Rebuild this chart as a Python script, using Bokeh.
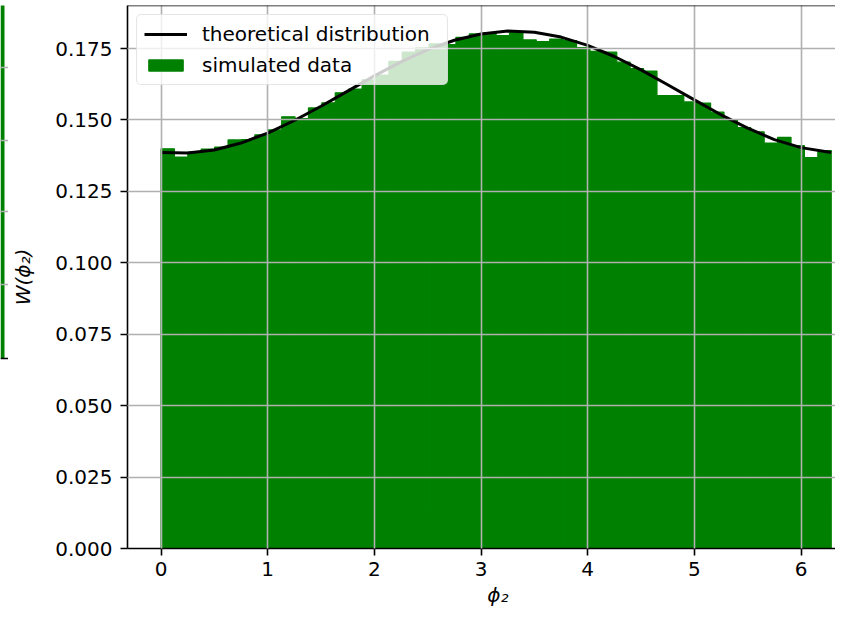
import numpy as np
from bokeh.plotting import figure
from bokeh.layouts import row
from bokeh.models import (Range1d, FixedTicker, PrintfTickFormatter, Legend, LegendItem, Span)
from bokeh.embed import file_html
from bokeh.resources import INLINE

# ---- data ----
n_bins = 50
hist_heights = [
    0.1399, 0.1370, 0.1387, 0.1398, 0.1405, 0.1430, 0.1431, 0.1448, 0.1465, 0.1511,
    0.1505, 0.1542, 0.1560, 0.1595, 0.1608, 0.1640, 0.1657, 0.1705, 0.1737, 0.1752,
    0.1766, 0.1764, 0.1789, 0.1801, 0.1804, 0.1795, 0.1806, 0.1780, 0.1774, 0.1783,
    0.1778, 0.1753, 0.1740, 0.1737, 0.1702, 0.1680, 0.1671, 0.1585, 0.1585, 0.1563,
    0.1559, 0.1527, 0.1500, 0.1473, 0.1458, 0.1419, 0.1439, 0.1410, 0.1368, 0.1393,
]
theory_x = [0.0, 0.25, 0.5, 0.75, 1.0, 1.25, 1.5, 1.75, 2.0, 2.25, 2.5, 2.75, 3.0,
            3.25, 3.5, 3.75, 4.0, 4.25, 4.5, 4.75, 5.0, 5.25, 5.5, 5.75, 6.0, 6.2832]
theory_y = [0.1386, 0.1384, 0.1395, 0.1419, 0.1454, 0.1498, 0.1548, 0.1601, 0.1654,
            0.1703, 0.1746, 0.1779, 0.1801, 0.1811, 0.1807, 0.1790, 0.1761, 0.1722,
            0.1675, 0.1623, 0.1570, 0.1518, 0.1471, 0.1431, 0.1403, 0.1386]
x_ticks = [0, 1, 2, 3, 4, 5, 6]
y_ticks = [0.0, 0.025, 0.05, 0.075, 0.1, 0.125, 0.15, 0.175]

# sliver of a neighbouring panel visible at the left edge of the reference
side_bar_bottom = [0.35]
side_bar_top = [1.02]
side_grid_ticks = [0.486, 0.620, 0.751, 0.885]

edges = np.linspace(0, 2 * np.pi, n_bins + 1)

FONT = "DejaVu Sans"
FS = "20px"
y_top = 0.19005
x_lo, x_hi = -0.31416, 6.3232
SIDE_W = 8

# ---- side sliver ----
s = figure(width=SIDE_W, height=611, output_backend="svg", toolbar_location=None,
           x_range=Range1d(0, 2.0), y_range=Range1d(0, 1.0),
           min_border_left=0, min_border_right=0, min_border_top=5,
           min_border_bottom=63)
s.outline_line_color = None
s.xaxis.visible = False
s.yaxis.visible = False
s.xgrid.visible = False
s.quad(left=[0], right=[1.0], bottom=side_bar_bottom, top=side_bar_top,
       fill_color="#008000", line_color=None)
s.ygrid.ticker = FixedTicker(ticks=side_grid_ticks)
s.ygrid.grid_line_color = "#b0b0b0"
s.ygrid.grid_line_width = 1.6
s.ygrid.level = "guide"
s.add_layout(Span(location=side_bar_bottom[0], dimension="width", line_color="black",
                  line_width=1.6))

# ---- main chart ----
p = figure(width=835 - SIDE_W, height=611, output_backend="svg", toolbar_location=None,
           x_range=Range1d(x_lo, x_hi), y_range=Range1d(0.0, y_top),
           min_border_left=127 - SIDE_W, min_border_right=0, min_border_top=5,
           min_border_bottom=63)
p.outline_line_color = None

bars = p.quad(left=edges[:-1], right=edges[1:], bottom=0, top=hist_heights,
              fill_color="#008000", line_color="#008000", line_width=1.2)
line = p.line(theory_x, theory_y, line_color="black", line_width=3)

# top spine
p.add_layout(Span(location=y_top, dimension="width", line_color="black", line_width=1.6))

for ax in (p.xaxis[0], p.yaxis[0]):
    ax.axis_line_color = "black"
    ax.axis_line_width = 1.6
    ax.major_tick_line_width = 1.6
    ax.major_tick_line_color = "black"
    ax.major_tick_out = 7
    ax.major_tick_in = 0
    ax.minor_tick_line_color = None
    ax.major_label_text_font = FONT
    ax.major_label_text_font_size = FS
    ax.major_label_text_color = "black"
    ax.axis_label_text_font = FONT
    ax.axis_label_text_font_size = FS
    ax.axis_label_text_font_style = "italic"
    ax.axis_label_text_color = "black"

p.xaxis.ticker = FixedTicker(ticks=x_ticks)
p.yaxis.ticker = FixedTicker(ticks=y_ticks)
p.yaxis.formatter = PrintfTickFormatter(format="%.3f")
p.xaxis.major_label_standoff = 6
p.yaxis.major_label_standoff = 8
p.xaxis.axis_label = "\u2003\u2007ϕ₂"
p.xaxis.axis_label_standoff = 4
p.yaxis.axis_label = "W(ϕ₂)"
p.yaxis.axis_label_standoff = 17

for g in (p.xgrid[0], p.ygrid[0]):
    g.grid_line_color = "#b0b0b0"
    g.grid_line_width = 1.6
    g.level = "guide"

legend = Legend(items=[LegendItem(label="theoretical distribution", renderers=[line]),
                       LegendItem(label="simulated data", renderers=[bars])],
                location="top_left")
legend.margin = 9
legend.padding = 7
legend.spacing = 7
legend.label_height = 24
legend.label_width = 238
legend.glyph_height = 14
legend.glyph_width = 43
legend.label_standoff = 15
legend.label_text_font = FONT
legend.label_text_font_size = FS
legend.label_text_color = "black"
legend.border_line_color = "#cccccc"
legend.border_line_width = 1.5
legend.background_fill_alpha = 0.8
legend.border_radius = 5
p.add_layout(legend)

layout = row(s, p, spacing=0)
open("out.html", "w").write(file_html(layout, INLINE))
